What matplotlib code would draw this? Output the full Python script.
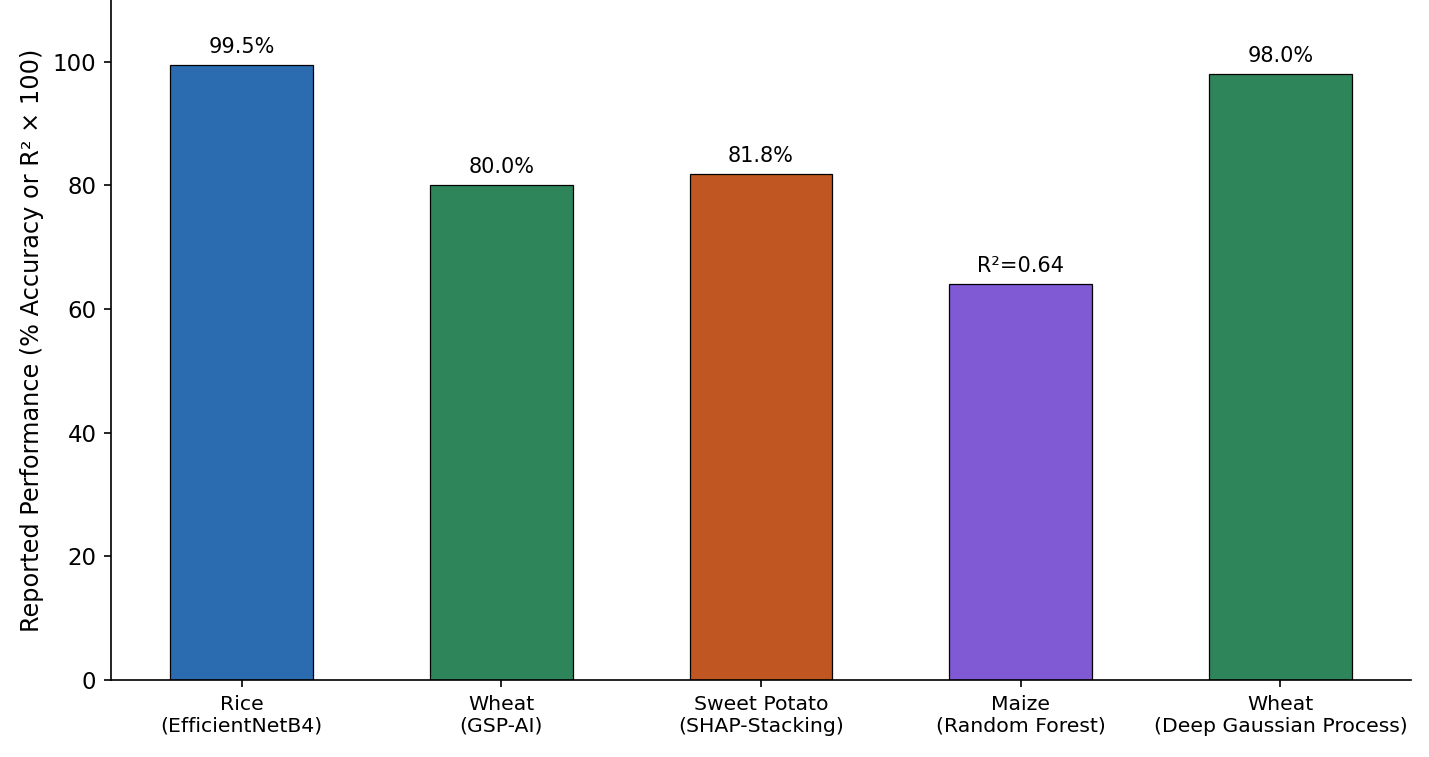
import matplotlib
matplotlib.use("Agg")
import matplotlib.pyplot as plt

# reported performance by crop / model
crops = ["Rice\n(EfficientNetB4)", "Wheat\n(GSP-AI)", "Sweet Potato\n(SHAP-Stacking)",
         "Maize\n(Random Forest)", "Wheat\n(Deep Gaussian Process)"]
values = [99.5, 80.0, 81.8, 64.0, 98.0]
labels = ["99.5%", "80.0%", "81.8%", "R\u00b2=0.64", "98.0%"]
colors = ["#2b6cb0", "#2f855a", "#c05621", "#805ad5", "#2f855a"]

fig, ax = plt.subplots(figsize=(1429 / 150, 757 / 150), dpi=150)
fig.subplots_adjust(left=0.0777, right=0.9874, bottom=0.1017, top=1.0)

x = range(len(crops))
bars = ax.bar(x, values, width=0.55, color=colors, edgecolor="black", linewidth=0.6)
for b, lab in zip(bars, labels):
    ax.annotate(lab, (b.get_x() + b.get_width() / 2, b.get_height()),
                xytext=(0, 4), textcoords="offset points",
                ha="center", va="bottom", fontsize=10)

ax.set_xticks(list(x))
ax.set_xticklabels(crops, fontsize=9.8)
ax.tick_params(axis="y", labelsize=11)
ax.set_ylim(0, 110)
ax.set_ylabel("Reported Performance (% Accuracy or R\u00b2 \u00d7 100)", fontsize=11.5)
ax.spines["top"].set_visible(False)
ax.spines["right"].set_visible(False)

fig.savefig("out.png", dpi=150)
